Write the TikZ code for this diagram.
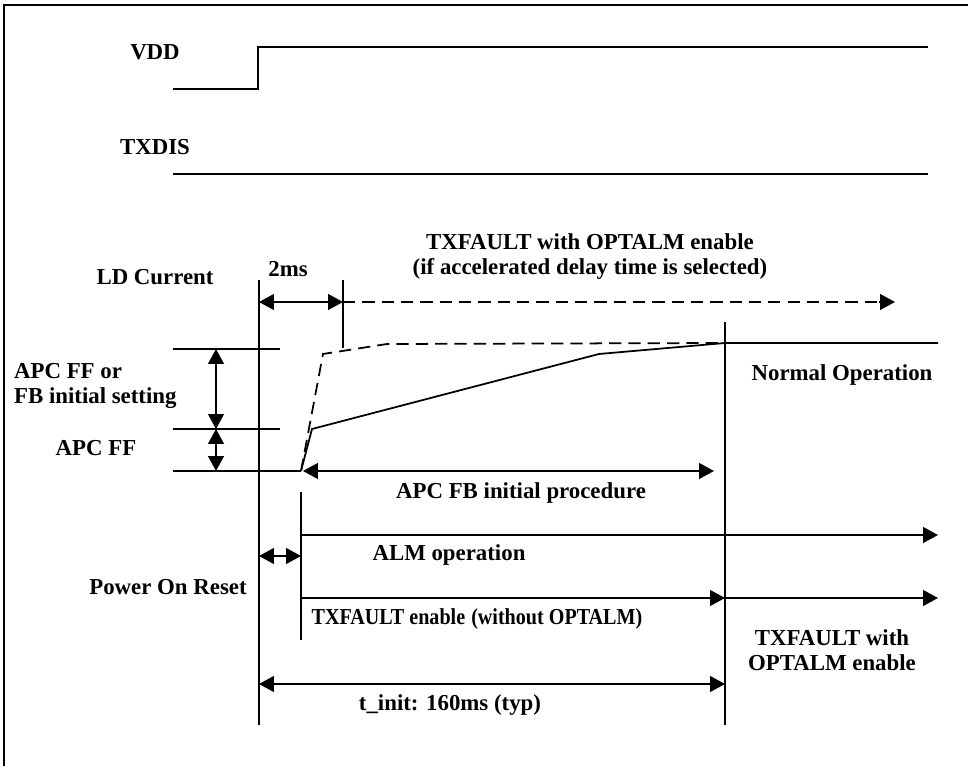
\documentclass[tikz,border=0pt]{standalone}
\usepackage{graphicx}
\usepackage{fontspec}
\setmainfont{Liberation Serif}
\usetikzlibrary{arrows.meta}

\tikzset{
  lbl/.style={font=\fontsize{13pt}{14.2pt}\selectfont\bfseries, inner sep=1pt},
  wave/.style={line width=1pt},
  marker/.style={line width=0.9pt},
  span/.style={line width=1pt, {Triangle[length=8.5pt,width=9pt]}-{Triangle[length=8.5pt,width=9pt]}},
  onward/.style={line width=1pt, -{Triangle[length=8.5pt,width=9pt]}},
  guess/.style={line width=1pt, dash pattern=on 7pt off 4pt}
}

\begin{document}
\begin{tikzpicture}[x=0.02cm, y=-0.02cm]
  \useasboundingbox (0,0) rectangle (968,766);
  % frame (only top and left edges show)
  \draw[line width=1.2pt] (4,766) -- (4,5) -- (968,5);

  % signal names
  \node[lbl] (vdd) at (155,52) {VDD};
  \node[lbl] (txdis) at (155,147) {TXDIS};
  \node[lbl] (ldcur) at (155,277) {LD Current};
  \node[lbl, align=left, anchor=west] (apcset) at (12,386) {APC FF or\\FB initial setting};
  \node[lbl] (apcff) at (96,448) {APC FF};
  \node[lbl] (porlbl) at (168,587) {Power On Reset};

  % VDD and TXDIS
  \draw[wave] (173,89) -- (258,89) -- (258,47) -- (928,47);
  \draw[wave] (173,174) -- (928,174);

  % time markers
  \coordinate (t0top) at (259,280);  \coordinate (t0bot) at (259,725);
  \coordinate (t2top) at (343,280);  \coordinate (t2bot) at (343,348);
  \coordinate (tatop) at (301,492);  \coordinate (tabot) at (301,640);
  \coordinate (tntop) at (725,322);  \coordinate (tnbot) at (725,725);
  \draw[marker] (t0top) -- (t0bot);
  \draw[marker] (t2top) -- (t2bot);
  \draw[marker] (tatop) -- (tabot);
  \draw[marker] (tntop) -- (tnbot);

  % level ticks
  \coordinate (hi) at (216,349);
  \coordinate (mid) at (216,429);
  \coordinate (lo) at (216,471);
  \draw[marker] (173,349) -- (280,349);
  \draw[marker] (173,429) -- (280,429);
  \draw[wave] (173,471) -- (301,471);
  \draw[span] (hi) -- (mid);
  \draw[span] (mid) -- (lo);

  % LD current ramps
  \draw[guess] (301,471) -- (323,354) -- (387,344) -- (725,343);
  \draw[wave] (301,471) -- (312,429) -- (599,354) -- (725,343) -- (938,343);

  % 2ms and accelerated TXFAULT
  \node[lbl] (twoms) at (288,269) {2ms};
  \node[lbl, align=center] (accel) at (590,257) {TXFAULT with OPTALM enable\\(if accelerated delay time is selected)};
  \coordinate (accend) at (895,302);
  \draw[span] (t0top |- accend) -- (t2top |- accend);
  \draw[guess] (t2top |- accend) -- ([xshift=-8pt]accend);
  \draw[onward] ([xshift=-9pt]accend) -- (accend);

  \node[lbl] (normal) at (842,375) {Normal Operation};

  % APC FB initial procedure
  \coordinate (fbl) at (303,471);
  \coordinate (fbr) at (714,471);
  \draw[span] (fbl) -- (fbr);
  \node[lbl] (fbproc) at (521,493) {APC FB initial procedure};

  % ALM operation
  \coordinate (almend) at (938,535);
  \draw[onward] (tatop |- almend) -- (almend);
  \node[lbl] (alm) at (449,555) {ALM operation};

  % power on reset
  \coordinate (porpt) at (259,556);
  \draw[span] (porpt) -- (tatop |- porpt);

  % TXFAULT enable
  \coordinate (txfend) at (938,598);
  \draw[onward] (tatop |- txfend) -- (tntop |- txfend);
  \draw[onward] (tntop |- txfend) -- (txfend);
  \node[lbl] (txfen) at (477,619) {\scalebox{0.88}[1]{TXFAULT enable\hspace{0.3em}(without OPTALM)}};
  \node[lbl, align=center] (txfopt) at (832,650) {TXFAULT with\\OPTALM enable};

  % t_init
  \coordinate (tinit) at (259,684);
  \draw[span] (tinit) -- (tntop |- tinit);
  \node[lbl] (tinitlbl) at (450,705) {t\_init: 160ms (typ)};
\end{tikzpicture}
\end{document}
